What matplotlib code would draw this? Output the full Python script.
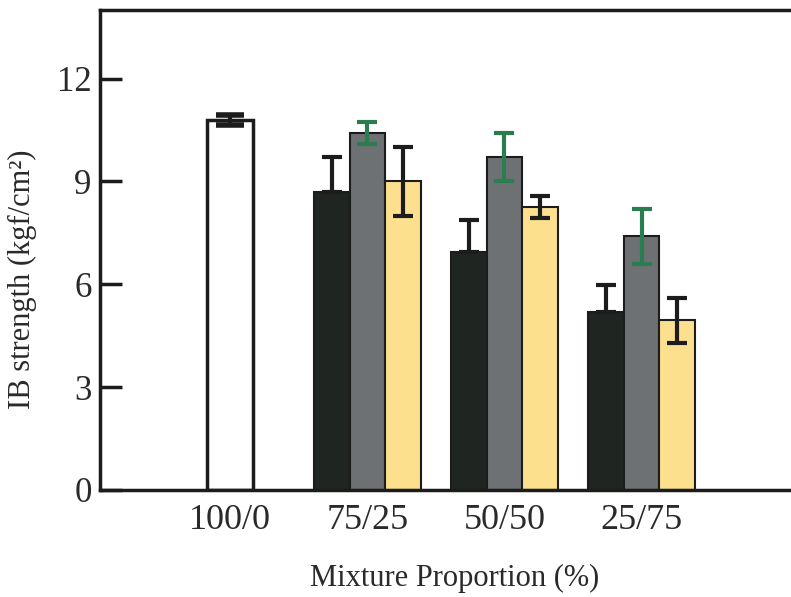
import numpy as np
import matplotlib
matplotlib.use("Agg")
import matplotlib.pyplot as plt

# mixture proportions on the x axis
categories = ['100/0', '75/25', '50/50', '25/75']

# control (100/0) bar
control_value = 10.8
control_err = 0.15

# three series for the mixed boards (75/25, 50/50, 25/75)
dark_values = [8.7, 6.95, 5.2]
dark_err = [1.0, 0.92, 0.78]
gray_values = [10.4, 9.7, 7.4]
gray_err = [0.32, 0.7, 0.8]
yellow_values = [9.0, 8.25, 4.95]
yellow_err = [1.0, 0.33, 0.65]

yticks = [0, 3, 6, 9, 12]

plt.rcParams['font.family'] = ['Liberation Serif', 'DejaVu Serif']

fig = plt.figure(figsize=(7.91, 5.97), dpi=100)
ax = fig.add_axes([100 / 791, (597 - 490) / 597, 691 / 791, 480 / 597])

edge = '#1c1c1c'
width = 0.26
mix_x = np.arange(1, 4)

ax.bar(0, control_value, width=0.335, color='white', edgecolor=edge, linewidth=2.5,
       yerr=control_err, error_kw=dict(ecolor=edge, elinewidth=3, capsize=10, capthick=4))

ax.bar(mix_x - width, dark_values, width=width, color='#1f2520', edgecolor=edge, linewidth=1.5,
       yerr=[np.zeros(3), dark_err], error_kw=dict(ecolor=edge, elinewidth=3, capsize=7, capthick=3))
ax.bar(mix_x, gray_values, width=width, color='#6d7174', edgecolor=edge, linewidth=1.5,
       yerr=gray_err, error_kw=dict(ecolor='#2a7d4f', elinewidth=3, capsize=7, capthick=3))
ax.bar(mix_x + width, yellow_values, width=width, color='#fde08e', edgecolor=edge, linewidth=1.5,
       yerr=yellow_err, error_kw=dict(ecolor=edge, elinewidth=3, capsize=7, capthick=3))

ax.set_xlim(-0.95, 4.09)
ax.set_ylim(0, 14)
ax.set_xticks(np.arange(4))
ax.set_xticklabels(categories, fontsize=26, color='#2a2a2a')
ax.set_yticks(yticks)
ax.set_yticklabels([str(t) for t in yticks], fontsize=25, color='#2a2a2a')
ax.tick_params(axis='x', length=0, pad=10)
ax.tick_params(axis='y', direction='in', length=16, width=2.5, color=edge, pad=6)

ax.spines['right'].set_visible(False)
for s in ['left', 'top', 'bottom']:
    ax.spines[s].set_linewidth(2.5)
    ax.spines[s].set_color(edge)

fig.text(455 / 791, 1 - 578 / 597, 'Mixture Proportion (%)', fontsize=22,
         ha='center', va='center', color='#2a2a2a')
fig.text(22 / 791, 1 - 279 / 597, 'IB strength (kgf/cm²)', fontsize=22,
         ha='center', va='center', rotation=90, color='#2a2a2a')

fig.savefig('out.png', dpi=100)
